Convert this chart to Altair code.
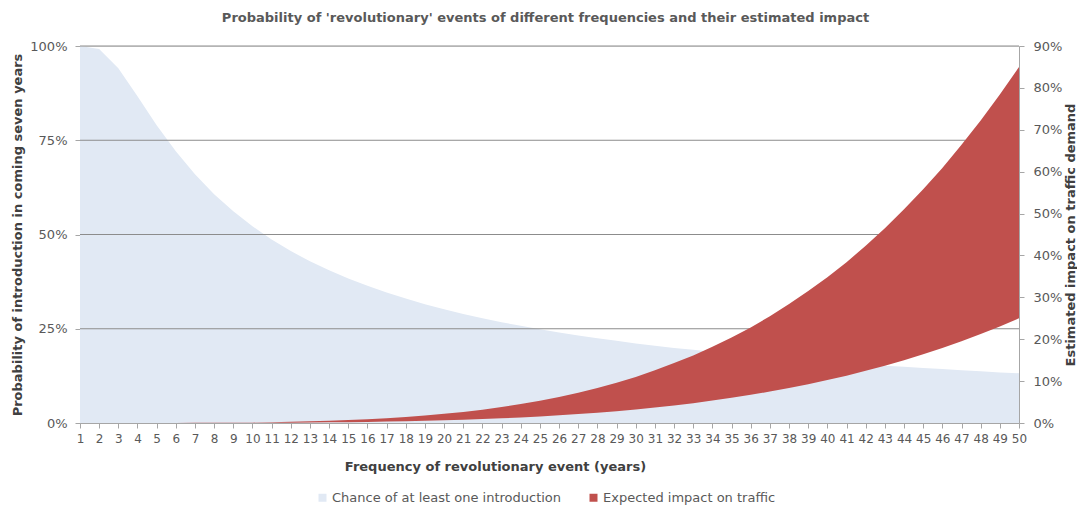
import altair as alt
import pandas as pd

# ---------------- data ----------------
freq = list(range(1, 51))

# Chance of at least one introduction in coming seven years (%)
chance_pct = [100.0, 99.2, 94.1, 86.7, 79.0, 72.1, 66.0, 60.7, 56.2, 52.2,
              48.7, 45.6, 42.9, 40.5, 38.3, 36.4, 34.6, 33.0, 31.5, 30.2,
              28.9, 27.8, 26.7, 25.8, 24.9, 24.0, 23.2, 22.5, 21.8, 21.1,
              20.5, 19.9, 19.4, 18.9, 18.4, 17.9, 17.5, 17.0, 16.6, 16.2,
              15.9, 15.5, 15.2, 14.9, 14.6, 14.3, 14.0, 13.7, 13.4, 13.2]

# Expected impact on traffic demand: upper and lower edge of band (%)
impact_high_pct = [0.0, 0.0, 0.0, 0.0, 0.01, 0.02, 0.03, 0.06, 0.09, 0.14,
                   0.20, 0.28, 0.39, 0.52, 0.69, 0.89, 1.14, 1.43, 1.77, 2.18,
                   2.64, 3.19, 3.81, 4.51, 5.31, 6.21, 7.23, 8.36, 9.62, 11.0,
                   12.6, 14.3, 16.1, 18.2, 20.4, 22.8, 25.5, 28.4, 31.5, 34.8,
                   38.4, 42.3, 46.5, 51.0, 55.8, 60.9, 66.4, 72.2, 78.4, 85.0]
impact_low_pct = [0.0, 0.0, 0.0, 0.0, 0.0, 0.01, 0.01, 0.02, 0.03, 0.04,
                  0.06, 0.08, 0.11, 0.15, 0.20, 0.26, 0.33, 0.42, 0.52, 0.64,
                  0.78, 0.94, 1.12, 1.33, 1.56, 1.83, 2.13, 2.46, 2.83, 3.24,
                  3.69, 4.19, 4.74, 5.35, 6.00, 6.72, 7.50, 8.34, 9.25, 10.24,
                  11.30, 12.45, 13.68, 14.99, 16.40, 17.91, 19.52, 21.23, 23.06, 25.0]

left_ticks = [0, 0.25, 0.5, 0.75, 1.0]
right_ticks = [0, 0.1, 0.2, 0.3, 0.4, 0.5, 0.6, 0.7, 0.8, 0.9]
grid_vals = [0.25, 0.5, 0.75, 1.0]
series_names = ["Chance of at least one introduction", "Expected impact on traffic"]
series_colors = ["#e1e9f4", "#c0504d"]

title_text = "Probability of 'revolutionary' events of different frequencies and their estimated impact"
x_title = "Frequency of revolutionary event (years)"
left_title = "Probability of introduction in coming seven years"
right_title = "Estimated impact on traffic demand"

FONT = "DejaVu Sans"
LABEL = "#595959"
TITLEC = "#404040"
AXISC = "#a6a6a6"
GRIDC = "#8c8c8c"

df_chance = pd.DataFrame({"freq": freq,
                          "chance": [v / 100 for v in chance_pct],
                          "series": series_names[0]})
df_impact = pd.DataFrame({"freq": freq,
                          "high": [v / 100 for v in impact_high_pct],
                          "low": [v / 100 for v in impact_low_pct],
                          "series": series_names[1]})
df_grid = pd.DataFrame({"g": grid_vals})

xscale = alt.Scale(domain=[1, 50], nice=False, zero=False)
color_scale = alt.Scale(domain=series_names, range=series_colors)

x_axis = alt.Axis(values=freq, format="d", title=x_title, grid=False,
                  labelFont=FONT, labelFontSize=12, labelColor=LABEL,
                  labelOverlap=False, labelFlush=False, labelPadding=5,
                  tickSize=5, tickColor=AXISC, domainColor=AXISC,
                  titleFont=FONT, titleFontSize=13, titleFontWeight="bold",
                  titleColor=TITLEC, titleX=415, titleY=43,
                  titleBaseline="middle", titleAlign="center")

left_axis = alt.Axis(values=left_ticks, format=".0%", orient="left", grid=False,
                     title=left_title, labelFont=FONT, labelFontSize=13,
                     labelColor=LABEL, labelPadding=8, tickSize=5,
                     tickColor=AXISC, domainColor=AXISC,
                     titleFont=FONT, titleFontSize=13, titleFontWeight="bold",
                     titleColor=TITLEC, titleAngle=270, titleX=-63, titleY=188.5,
                     titleBaseline="middle", titleAlign="center")

right_axis = alt.Axis(values=right_ticks, format=".0%", orient="right", grid=False,
                      title=right_title, labelFont=FONT, labelFontSize=13,
                      labelColor=LABEL, labelPadding=9, tickSize=5,
                      tickColor=AXISC, domainColor=AXISC,
                      titleFont=FONT, titleFontSize=13, titleFontWeight="bold",
                      titleColor=TITLEC, titleAngle=270, titleX=51, titleY=188.5,
                      titleBaseline="middle", titleAlign="center")

legend = alt.Legend(title=None, orient="none", legendX=236, legendY=445,
                    direction="horizontal", symbolType="square", symbolSize=64,
                    symbolStrokeWidth=0, symbolOpacity=1,
                    labelFont=FONT, labelFontSize=13, labelColor=LABEL,
                    labelLimit=400, labelOffset=3, columnPadding=25, padding=0)

blue = alt.Chart(df_chance).mark_area(opacity=1).encode(
    x=alt.X("freq:Q", scale=xscale, axis=x_axis),
    y=alt.Y("chance:Q", scale=alt.Scale(domain=[0, 1], nice=False), axis=left_axis),
    color=alt.Color("series:N", scale=color_scale, legend=legend),
)

grid = alt.Chart(df_grid).mark_rule(color=GRIDC, strokeWidth=1).encode(
    y=alt.Y("g:Q", scale=alt.Scale(domain=[0, 1], nice=False), axis=None),
)

red = alt.Chart(df_impact).mark_area(opacity=1).encode(
    x=alt.X("freq:Q", scale=xscale, axis=x_axis),
    y=alt.Y("high:Q", scale=alt.Scale(domain=[0, 0.9], nice=False), axis=right_axis),
    y2="low:Q",
    color=alt.Color("series:N", scale=color_scale, legend=legend),
)

chart = alt.layer(blue, grid, red).resolve_scale(y="independent").properties(
    width=939, height=377,
    autosize="none",
    padding={"left": 72, "top": 38, "right": 58, "bottom": 84},
    title=alt.TitleParams(text=title_text, font=FONT, fontSize=13,
                          fontWeight="bold", color=LABEL, anchor="middle",
                          offset=15, dx=-4),
).configure_view(stroke=None).configure(background="white")

chart.save("out.html", embed_options={"renderer": "svg", "actions": False})
